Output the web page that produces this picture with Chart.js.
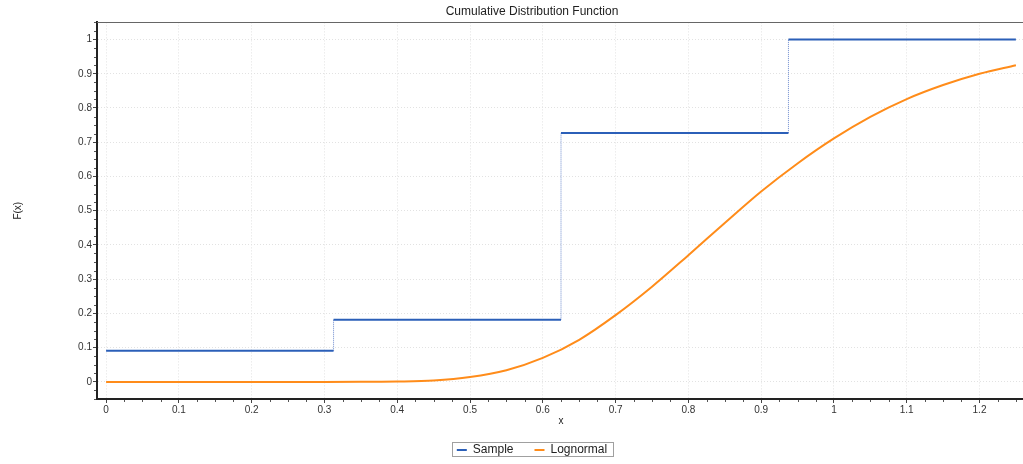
<!DOCTYPE html>
<html>
<head>
<meta charset="utf-8">
<title>Cumulative Distribution Function</title>
<script src="https://cdn.jsdelivr.net/npm/chart.js@4/dist/chart.umd.min.js"></script>
<style>
  html, body { margin: 0; padding: 0; background: #ffffff; overflow: hidden; }
  #wrap { position: relative; width: 1064px; height: 464px; }
</style>
</head>
<body>
<div id="wrap"><canvas id="cdf" width="1064" height="464"></canvas></div>
<script>
// Empirical CDF of the sample: step breakpoints and the level held on each interval
const sampleBreaks = [0, 0.3125, 0.625, 0.9375, 1.25];
const sampleLevels = [0.0909, 0.1818, 0.7273, 1.0];

// Fitted lognormal CDF
const lognormalX = [0, 0.05, 0.1, 0.15, 0.2, 0.25, 0.3, 0.35, 0.4, 0.45, 0.5, 0.55, 0.6,
                    0.65, 0.7, 0.75, 0.8, 0.85, 0.9, 0.95, 1.0, 1.05, 1.1, 1.15, 1.2, 1.25];
const lognormalF = [0, 0, 0, 0, 0, 0, 0, 0.0001, 0.001, 0.004, 0.014, 0.034, 0.07,
                    0.123, 0.195, 0.278, 0.37, 0.464, 0.556, 0.638, 0.711, 0.774, 0.826, 0.867, 0.9, 0.925];

// Axis tick labels
const xTickValues = [0, 0.1, 0.2, 0.3, 0.4, 0.5, 0.6, 0.7, 0.8, 0.9, 1, 1.1, 1.2];
const yTickValues = [0, 0.1, 0.2, 0.3, 0.4, 0.5, 0.6, 0.7, 0.8, 0.9, 1];

const FONT = '"Liberation Sans", Arial, Helvetica, sans-serif';
const BLUE = '#2b5fb8';
const ORANGE = '#ff8c1a';

// Step vertices: horizontal run on each interval, then a vertical jump
const samplePoints = [];
for (let i = 0; i < sampleLevels.length; i++) {
  samplePoints.push({ x: sampleBreaks[i], y: sampleLevels[i] });
  samplePoints.push({ x: sampleBreaks[i + 1], y: sampleLevels[i] });
}
const lognormalPoints = lognormalX.map((x, i) => ({ x, y: lognormalF[i] }));

const isJump = ctx => ctx.p0.parsed.x === ctx.p1.parsed.x;

// Small minor tick marks every 0.025 on both axes
const minorTicks = {
  id: 'minorTicks',
  afterDraw(chart) {
    const { ctx, chartArea: a, scales: { x, y } } = chart;
    ctx.save();
    ctx.strokeStyle = '#555';
    ctx.lineWidth = 1;
    ctx.beginPath();
    for (let i = 0; i <= 50; i++) {
      if (i % 4 === 0) continue;
      const px = Math.round(x.getPixelForValue(i * 0.025)) + 0.5;
      ctx.moveTo(px, a.bottom + 1);
      ctx.lineTo(px, a.bottom + 3);
    }
    for (let i = -2; i <= 42; i++) {
      if (i % 4 === 0) continue;
      const py = Math.round(y.getPixelForValue(i * 0.025)) + 0.5;
      ctx.moveTo(a.left - 3, py);
      ctx.lineTo(a.left - 1, py);
    }
    ctx.stroke();
    // top frame line of the plot
    ctx.beginPath();
    ctx.strokeStyle = '#666';
    ctx.moveTo(a.left, Math.round(a.top) + 0.5);
    ctx.lineTo(a.right, Math.round(a.top) + 0.5);
    ctx.stroke();
    ctx.restore();
  }
};

// Thin frame around the legend items
const legendFrame = {
  id: 'legendFrame',
  afterDraw(chart) {
    const boxes = chart.legend && chart.legend.legendHitBoxes;
    if (!boxes || !boxes.length) return;
    const left = Math.min(...boxes.map(b => b.left)) - 5;
    const right = Math.max(...boxes.map(b => b.left + b.width)) + 6;
    const mid = boxes[0].top + boxes[0].height / 2;
    const { ctx } = chart;
    ctx.save();
    ctx.strokeStyle = '#a0a0a0';
    ctx.lineWidth = 1;
    ctx.strokeRect(Math.round(left) + 0.5, Math.round(mid - 8) + 0.5,
                   Math.round(right - left), 14);
    ctx.restore();
  }
};

new Chart(document.getElementById('cdf'), {
  type: 'line',
  data: {
    datasets: [
      {
        label: 'Sample',
        data: samplePoints,
        borderColor: BLUE,
        backgroundColor: BLUE,
        borderWidth: 2,
        pointRadius: 0,
        fill: false,
        tension: 0,
        segment: {
          borderDash: c => isJump(c) ? [1, 1] : undefined,
          borderWidth: c => isJump(c) ? 1 : undefined,
          borderColor: c => isJump(c) ? 'rgba(60,100,190,0.75)' : undefined
        }
      },
      {
        label: 'Lognormal',
        data: lognormalPoints,
        borderColor: ORANGE,
        backgroundColor: ORANGE,
        borderWidth: 2,
        pointRadius: 0,
        fill: false,
        cubicInterpolationMode: 'monotone'
      }
    ]
  },
  options: {
    responsive: false,
    animation: false,
    events: [],
    layout: { padding: { left: 0, right: 0, top: 0, bottom: -2 } },
    plugins: {
      title: {
        display: true,
        text: 'Cumulative Distribution Function',
        color: '#222',
        font: { family: FONT, size: 12, weight: 'normal', lineHeight: 1.2 },
        padding: { top: 4, bottom: 4 }
      },
      legend: {
        display: true,
        position: 'bottom',
        labels: {
          usePointStyle: true,
          pointStyle: 'line',
          pointStyleWidth: 10,
          padding: 21,
          color: '#222',
          font: { family: FONT, size: 12 }
        }
      },
      tooltip: { enabled: false }
    },
    scales: {
      x: {
        type: 'linear',
        min: -0.0125,
        max: 1.2625,
        afterBuildTicks: s => { s.ticks = xTickValues.map(v => ({ value: v })); },
        afterFit: s => { s.height = 24; },
        ticks: {
          color: '#333',
          font: { family: FONT, size: 10 },
          padding: 1,
          maxRotation: 0,
          autoSkip: false,
          callback: v => String(v)
        },
        grid: {
          color: '#e2e2e2',
          lineWidth: 1,
          tickLength: 4,
          tickColor: '#444',
          tickWidth: 1
        },
        border: { display: true, color: '#222', width: 2, dash: [1, 2] },
        title: {
          display: true,
          text: 'x',
          color: '#222',
          font: { family: FONT, size: 10, lineHeight: 0.4 },
          padding: { top: 0, bottom: 0 }
        }
      },
      y: {
        type: 'linear',
        position: 'left',
        min: -0.05,
        max: 1.05,
        afterBuildTicks: s => { s.ticks = yTickValues.map(v => ({ value: v })); },
        afterFit: s => { s.width = 97; },
        ticks: {
          color: '#333',
          font: { family: FONT, size: 10 },
          padding: 1,
          autoSkip: false,
          callback: v => String(v)
        },
        grid: {
          color: '#e2e2e2',
          lineWidth: 1,
          tickLength: 4,
          tickColor: '#444',
          tickWidth: 1
        },
        border: { display: true, color: '#222', width: 2, dash: [1, 2] },
        title: {
          display: true,
          text: 'F(x)',
          color: '#222',
          font: { family: FONT, size: 10, lineHeight: 1.2 },
          padding: { top: 12, bottom: 0 }
        }
      },
      yRight: {
        type: 'linear',
        position: 'right',
        min: 0,
        max: 1,
        afterFit: s => { s.width = 39; },
        ticks: { display: false },
        grid: { display: false, drawTicks: false },
        border: { display: false }
      }
    }
  },
  plugins: [minorTicks, legendFrame]
});
</script>
</body>
</html>
